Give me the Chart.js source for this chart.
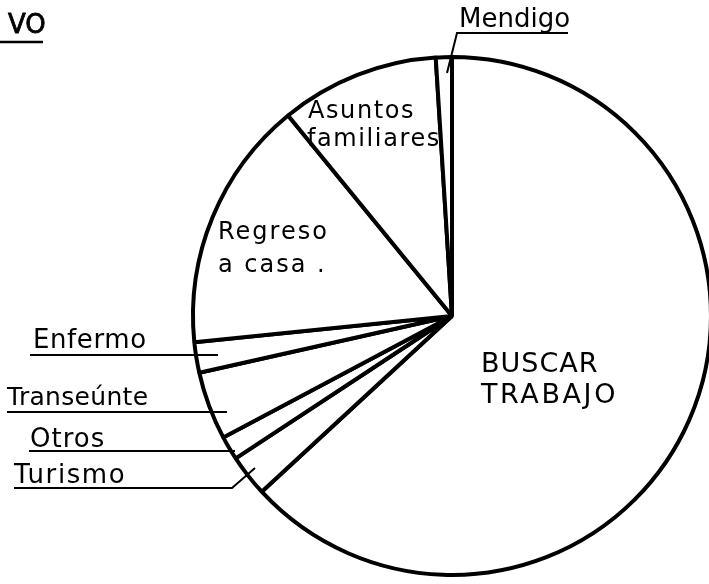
<!DOCTYPE html>
<html lang="es">
<head>
  <meta charset="UTF-8" />
  <title>VO - Motivo del viaje</title>
  <script src="https://cdn.jsdelivr.net/npm/chart.js"></script>
  <style>
    html, body {
      margin: 0;
      padding: 0;
      background: #fff;
      overflow: hidden;
      width: 709px;
      height: 584px;
    }
    #wrap {
      position: absolute;
      left: 0;
      top: 0;
    }
  </style>
</head>
<body>
  <div id="wrap">
    <canvas id="pie" width="730" height="584"></canvas>
  </div>

  <script>
    // datos (porcentaje aproximado), sentido horario desde arriba
    const categorias = ['BUSCAR TRABAJO', 'Turismo', 'Otros', 'Transeúnte', 'Enfermo',
                        'Regreso a casa', 'Asuntos familiares', 'Mendigo'];
    const valores = [63.1, 2.6, 1.5, 4.25, 1.9, 15.7, 9.9, 1.0];

    const titulo = 'VO';
    const fuente = '"DejaVu Sans", sans-serif';

    // textos y líneas guía dibujados encima del pastel
    const rotulos = {
      id: 'rotulos',
      afterDraw(chart) {
        const ctx = chart.ctx;
        ctx.save();
        ctx.fillStyle = '#000';
        ctx.strokeStyle = '#000';
        ctx.textBaseline = 'alphabetic';
        ctx.lineCap = 'butt';

        function texto(t, x, y, size, sp) {
          ctx.font = size + 'px ' + fuente;
          ctx.letterSpacing = (sp || 0) + 'px';
          ctx.fillText(t, x, y);
        }
        function linea(pts, w) {
          ctx.lineWidth = w;
          ctx.beginPath();
          ctx.moveTo(pts[0][0], pts[0][1]);
          for (let k = 1; k < pts.length; k++) ctx.lineTo(pts[k][0], pts[k][1]);
          ctx.stroke();
        }

        // título
        texto(titulo, 8, 33, 26, 0);
        ctx.lineWidth = 0.8;
        ctx.strokeText(titulo, 8, 33);
        linea([[0, 42], [43, 42]], 2.5);

        // etiquetas exteriores
        texto('Mendigo', 459, 27, 26);
        linea([[568, 33], [457, 33], [447, 73]], 2);

        texto('Enfermo', 33, 348, 26, 0.6);
        linea([[30, 355], [218, 355]], 2);

        texto('Transeúnte', 7, 405, 25, 0.3);
        linea([[7, 412], [227, 412]], 2);

        texto('Otros', 30, 447, 26, 1);
        linea([[29, 451], [235, 451]], 2);

        texto('Turismo', 14, 483, 26, 1.6);
        linea([[14, 488], [232, 488], [255, 468]], 2);

        // etiquetas interiores
        texto('Asuntos', 308, 118, 24, 1.6);
        texto('familiares', 307, 146, 24, 1.6);
        texto('Regreso', 218, 239, 24, 2);
        texto('a casa .', 218, 272, 24, 2);
        texto('BUSCAR', 481, 372, 27, 1);
        texto('TRABAJO', 481, 403, 27, 2.6);

        ctx.restore();
      }
    };

    new Chart(document.getElementById('pie'), {
      type: 'pie',
      data: {
        labels: categorias,
        datasets: [{
          data: valores,
          backgroundColor: '#fff',
          borderColor: '#000',
          borderWidth: 4,
          hoverBackgroundColor: '#fff',
          hoverBorderColor: '#000'
        }]
      },
      options: {
        responsive: false,
        animation: false,
        events: [],
        rotation: 0,
        layout: {
          padding: { left: 191, right: 17, top: 55, bottom: 7 }
        },
        plugins: {
          legend: { display: false },
          tooltip: { enabled: false }
        }
      },
      plugins: [rotulos]
    });
  </script>
</body>
</html>
